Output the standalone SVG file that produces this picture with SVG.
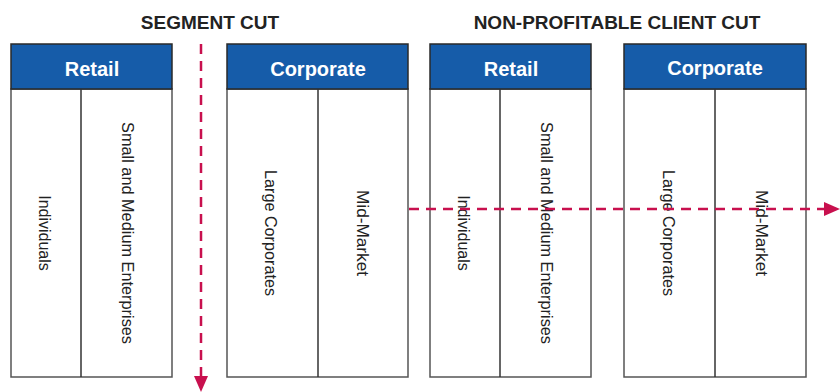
<svg xmlns="http://www.w3.org/2000/svg" width="840" height="392" viewBox="0 0 840 392">
<defs>
<style>
.title{font-family:"Liberation Sans",Arial,sans-serif;font-weight:bold;font-size:19px;fill:#222;text-anchor:middle}
.hdr{fill:#165CA9;stroke:#2a2a2a;stroke-width:1.5}
.hdrtxt{font-family:"Liberation Sans",Arial,sans-serif;font-weight:bold;font-size:20px;fill:#fff;text-anchor:middle}
.body{fill:#fff;stroke:#555;stroke-width:1.5}
.div{stroke:#333;stroke-width:1.5}
.lbl{font-family:"Liberation Sans",Arial,sans-serif;font-size:16px;fill:#222;text-anchor:middle;dominant-baseline:central}
.cut{stroke:#C8104E;stroke-width:2.5;stroke-dasharray:10,7;fill:none}
</style>
<marker id="ah2" markerWidth="16" markerHeight="14" refX="10" refY="7" orient="auto" markerUnits="userSpaceOnUse" viewBox="0 0 16 14">
<path d="M0,0 L16,7 L0,14 Z" fill="#C8104E"/>
</marker>
</defs>
<text class="title" x="210" y="29">SEGMENT CUT</text>
<text class="title" x="617" y="29">NON-PROFITABLE CLIENT CUT</text>

<g id="retail1">
<rect class="body" x="11" y="89" width="161" height="288"/>
<rect class="hdr" x="11" y="44" width="161" height="45"/>
<text class="hdrtxt" x="92" y="76">Retail</text>
<line class="div" x1="81" y1="89" x2="81" y2="377"/>
<text class="lbl" transform="translate(44,233) rotate(90)">Individuals</text>
<text class="lbl" transform="translate(127,233) rotate(90)" textLength="222" lengthAdjust="spacingAndGlyphs">Small and Medium Enterprises</text>
</g>

<g id="corporate1">
<rect class="body" x="227" y="89" width="181" height="288"/>
<rect class="hdr" x="227" y="44" width="181" height="45"/>
<text class="hdrtxt" x="318" y="76">Corporate</text>
<line class="div" x1="318" y1="89" x2="318" y2="377"/>
<text class="lbl" transform="translate(270,233) rotate(90)" textLength="126" lengthAdjust="spacingAndGlyphs">Large Corporates</text>
<text class="lbl" transform="translate(362,233) rotate(90)" textLength="86" lengthAdjust="spacingAndGlyphs">Mid-Market</text>
</g>

<g id="retail2">
<rect class="body" x="430" y="89" width="161" height="288"/>
<rect class="hdr" x="430" y="44" width="161" height="45"/>
<text class="hdrtxt" x="511" y="76">Retail</text>
<line class="div" x1="500" y1="89" x2="500" y2="377"/>
<text class="lbl" transform="translate(463,233) rotate(90)">Individuals</text>
<text class="lbl" transform="translate(546,233) rotate(90)" textLength="222" lengthAdjust="spacingAndGlyphs">Small and Medium Enterprises</text>
</g>

<g id="corporate2">
<rect class="body" x="624" y="89" width="182" height="288"/>
<rect class="hdr" x="624" y="44" width="182" height="45"/>
<text class="hdrtxt" x="715" y="75">Corporate</text>
<line class="div" x1="715" y1="89" x2="715" y2="377"/>
<text class="lbl" transform="translate(668,233) rotate(90)" textLength="126" lengthAdjust="spacingAndGlyphs">Large Corporates</text>
<text class="lbl" transform="translate(761,233) rotate(90)" textLength="86" lengthAdjust="spacingAndGlyphs">Mid-Market</text>
</g>

<g id="connectors">
<line class="cut" x1="201" y1="44" x2="201" y2="386" marker-end="url(#ah2)"/>
<line class="cut" x1="409" y1="209" x2="834" y2="209" marker-end="url(#ah2)"/>
</g>
</svg>
